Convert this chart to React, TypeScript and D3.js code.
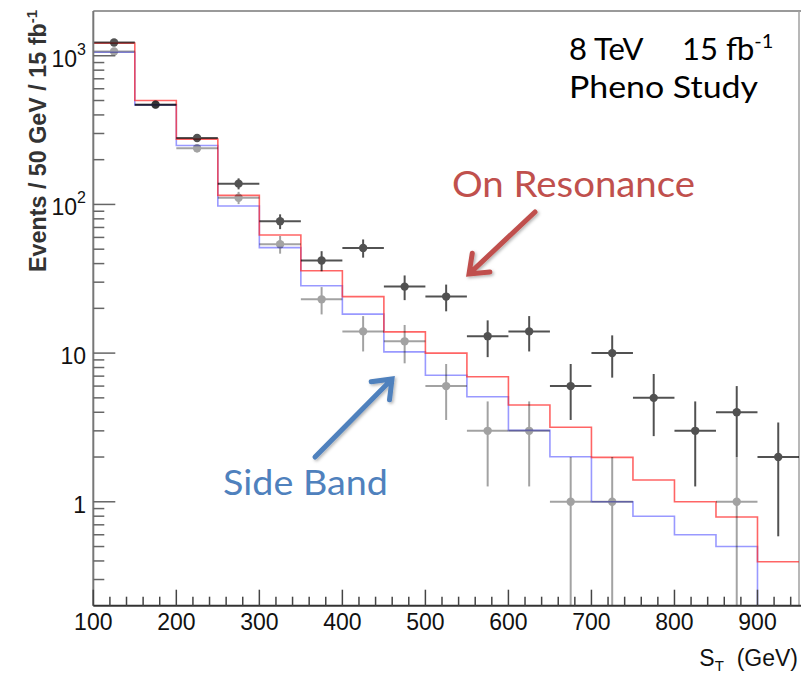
import React from "react";
import * as d3 from "d3";

// ---- data ----
const binLow = [100, 150, 200, 250, 300, 350, 400, 450, 500, 550, 600, 650, 700, 750, 800, 850, 900];
const binWidth = 50;
const onResHist = [1216, 500, 275, 115, 62.3, 35.8, 24.0, 13.9, 10.0, 6.94, 4.48, 3.17, 1.99, 1.4, 1.0, 0.79, 0.395];
const sideBandHist = [1057, 467, 249, 97.7, 51.2, 28.4, 18.3, 10.2, 7.09, 5.09, 3.02, 2.01, 1.0, 0.8, 0.6, 0.5, 0];
const onResData = [1227, 469, 280, 138, 77, 42, 51, 28, 24, 13, 14, 6, 10, 5, 3, 4, 2];
const sideBandData: (number | null)[] = [1067, 469, 239, 111, 54, 23, 14, 12, 6, 3, 3, 1, 1, null, null, 1, null];
const xMajorTicks = [100, 200, 300, 400, 500, 600, 700, 800, 900];
const yMajorTicks = [1, 10, 100, 1000];
const yTickBase = ["1", "10", "10", "10"];
const yTickExp = ["", "", "2", "3"];

const W = 801;
const H = 673;
const L = 93.3;
const R = 799;
const T = 11;
const B = 605.7;

const x = d3.scaleLinear().domain([100, 950]).range([L, R]);
const y = d3.scaleLog().domain([0.2, 2000]).range([B, T]).clamp(true);

function histPath(vals: number[]) {
  const pts: [number, number][] = binLow.map((lo, i) => [x(lo), y(Math.max(vals[i], 1e-3))]);
  pts.push([x(binLow[binLow.length - 1] + binWidth), y(Math.max(vals[vals.length - 1], 1e-3))]);
  return d3.line().curve(d3.curveStepAfter)(pts) || "";
}

function Points({ vals, opacity }: { vals: (number | null)[]; opacity: number }) {
  return (
    <g opacity={opacity}>
      {vals.map((v, i) => {
        if (v == null) return null;
        const lo = binLow[i];
        const cx = x(lo + binWidth / 2);
        const cy = y(v);
        const e = Math.sqrt(v);
        return (
          <g key={i}>
            <line x1={x(lo)} x2={x(lo + binWidth)} y1={cy} y2={cy} stroke="#000" strokeWidth={2} />
            <line x1={cx} x2={cx} y1={y(v + e)} y2={y(Math.max(v - e, 1e-3))} stroke="#000" strokeWidth={2} />
            <circle cx={cx} cy={cy} r={4.2} fill="#000" />
          </g>
        );
      })}
    </g>
  );
}

function Arrow({ x1, y1, x2, y2, color }: { x1: number; y1: number; x2: number; y2: number; color: string }) {
  const ang = Math.atan2(y2 - y1, x2 - x1);
  const wl = 21;
  const spread = 0.66;
  const a1 = ang + Math.PI - spread;
  const a2 = ang + Math.PI + spread;
  const p = d3.path();
  p.moveTo(x1, y1);
  p.lineTo(x2 - 2 * Math.cos(ang), y2 - 2 * Math.sin(ang));
  p.moveTo(x2 + wl * Math.cos(a1), y2 + wl * Math.sin(a1));
  p.lineTo(x2, y2);
  p.lineTo(x2 + wl * Math.cos(a2), y2 + wl * Math.sin(a2));
  return (
    <path d={p.toString()} fill="none" stroke={color} strokeWidth={5} strokeLinecap="round" strokeLinejoin="miter" filter="url(#shadow)" />
  );
}

export default function App() {
  const xMinor = d3.range(100, 950, 20).filter((v) => v % 100 !== 0);
  const yMinor: number[] = [];
  [0.1, 1, 10, 100, 1000].forEach((d) => {
    for (let k = 2; k <= 9; k++) {
      const v = k * d;
      if (v > 0.2 && v < 2000) yMinor.push(v);
    }
  });
  const axisFont = "'Liberation Sans', Arial, Helvetica, sans-serif";
  const calibri = "Lato, 'Open Sans', sans-serif";

  return (
    <svg width={W} height={H} viewBox={`0 0 ${W} ${H}`} style={{ position: "absolute", left: 0, top: 0, background: "#fff" }}>
      <defs>
        <clipPath id="plot">
          <rect x={L} y={T} width={R - L} height={B - T} />
        </clipPath>
        <filter id="shadow" x="-20%" y="-20%" width="140%" height="140%">
          <feDropShadow dx={1.5} dy={1.5} stdDeviation={1.5} floodColor="#000" floodOpacity={0.3} />
        </filter>
      </defs>
      <rect x={0} y={0} width={W} height={H} fill="#fff" />

      {/* frame */}
      <line x1={L} x2={W} y1={T} y2={T} stroke="#9a9a9a" strokeWidth={2} />
      <line x1={R} x2={R} y1={T} y2={B} stroke="#a0a0a0" strokeWidth={1.5} />

      <g clipPath="url(#plot)">
        <path d={histPath(sideBandHist)} fill="none" stroke="#3333ff" strokeOpacity={0.5} strokeWidth={1.6} />
        <path d={histPath(onResHist)} fill="none" stroke="#ff2a2a" strokeOpacity={0.72} strokeWidth={1.6} />
        <Points vals={sideBandData} opacity={0.36} />
        <Points vals={onResData} opacity={0.68} />
      </g>

      {/* y axis */}
      <line x1={L} x2={L} y1={T} y2={B} stroke="#777" strokeWidth={2} />
      {yMinor.map((v) => (
        <line key={"ym" + v} x1={L} x2={L + 11} y1={y(v)} y2={y(v)} stroke="#666" strokeWidth={1.5} />
      ))}
      {yMajorTicks.map((v, i) => (
        <g key={"yM" + v}>
          <line x1={L} x2={L + 22} y1={y(v)} y2={y(v)} stroke="#666" strokeWidth={1.5} />
          <text x={yTickExp[i] ? 77 : 86} y={y(v) + 11} textAnchor="end" fontFamily={axisFont} fontSize={23} fill="#111">
            {yTickBase[i]}
          </text>
          {yTickExp[i] && (
            <text x={77} y={y(v) - 1} fontFamily={axisFont} fontSize={16} fill="#111">
              {yTickExp[i]}
            </text>
          )}
        </g>
      ))}

      {/* x axis */}
      <line x1={L} x2={W} y1={B} y2={B} stroke="#333" strokeWidth={2} />
      {xMinor.map((v) => (
        <line key={"xm" + v} x1={x(v)} x2={x(v)} y1={B} y2={B - 9} stroke="#444" strokeWidth={1.5} />
      ))}
      {xMajorTicks.map((v) => (
        <g key={"xM" + v}>
          <line x1={x(v)} x2={x(v)} y1={B} y2={B - 16} stroke="#444" strokeWidth={1.5} />
          <text x={x(v)} y={630} textAnchor="middle" fontFamily={axisFont} fontSize={23} fill="#111">
            {v}
          </text>
        </g>
      ))}

      {/* axis titles */}
      <text x={798} y={666} textAnchor="end" fontFamily={axisFont} fontSize={23} fill="#111">
        S<tspan fontSize={15} dy={5}>T</tspan>
        <tspan dy={-5}>{"\u00a0\u00a0(GeV)"}</tspan>
      </text>
      <text transform="translate(46,10) rotate(-90)" textAnchor="end" fontFamily={axisFont} fontWeight="bold" fontSize={23.3} fill="#333">
        Events / 50 GeV / 15 fb
        <tspan fontSize={15} dy={-9}>-1</tspan>
      </text>

      {/* annotations */}
      <text x={569} y={60} fontFamily={calibri} fontSize={31} fill="#000">
        8 TeV
      </text>
      <text x={682} y={60} fontFamily={calibri} fontSize={31} fill="#000">
        15 fb<tspan fontSize={20} dy={-12}>-1</tspan>
      </text>
      <text x={569} y={97.5} fontFamily={calibri} fontSize={31} fill="#000" textLength={189} lengthAdjust="spacingAndGlyphs">
        Pheno Study
      </text>
      <text x={452} y={197} fontFamily={calibri} fontSize={36} fill="#c0504d" textLength={243} lengthAdjust="spacingAndGlyphs">
        On Resonance
      </text>
      <text x={223} y={495} fontFamily={calibri} fontSize={35} fill="#4f81bd" textLength={165} lengthAdjust="spacingAndGlyphs">
        Side Band
      </text>
      <Arrow x1={535} y1={212} x2={469} y2={274} color="#c0504d" />
      <Arrow x1={315} y1={457} x2={392} y2={379} color="#4f81bd" />
    </svg>
  );
}
